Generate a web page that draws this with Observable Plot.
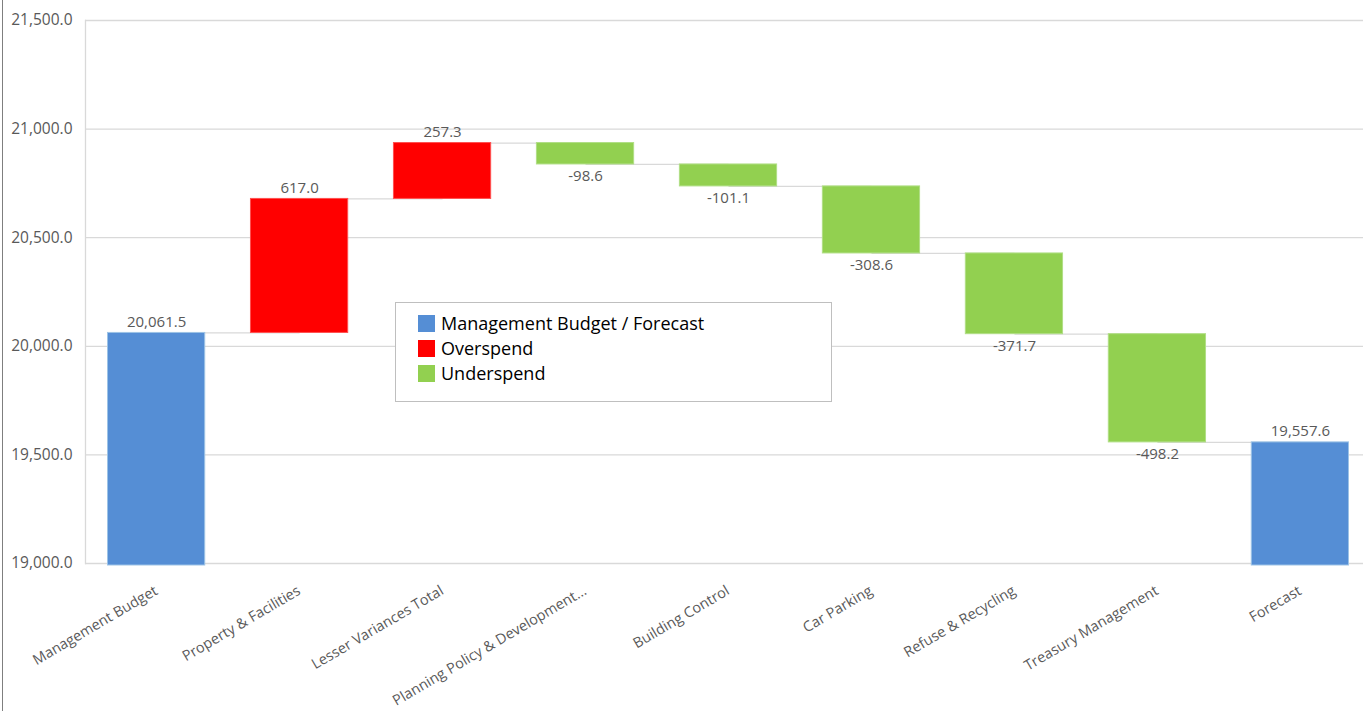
<!DOCTYPE html>
<html>
<head>
<meta charset="utf-8">
<script src="https://cdn.jsdelivr.net/npm/d3@7"></script>
<script src="https://cdn.jsdelivr.net/npm/@observablehq/plot@0.6"></script>
<style>
  html, body { margin: 0; padding: 0; background: #fff; }
  #wrap { position: relative; width: 1363px; height: 711px; overflow: hidden; font-family: "Open Sans", sans-serif; }
  #border { position: absolute; left: 2px; top: 0; width: 0; height: 711px; border-left: 1px solid #7f7f7f; }
  #legend { position: absolute; left: 395px; top: 302px; width: 435px; height: 98px; border: 1px solid #bfbfbf; background: #fff; box-sizing: content-box; }
  .item { position: absolute; left: 22px; height: 20px; display: flex; align-items: center; font-size: 18px; color: #000; }
  .sw { width: 17px; height: 17px; margin-right: 6px; }
</style>
</head>
<body>
<div id="wrap"><div id="chart"></div><div id="border"></div><div id="legend"></div></div>
<script>
const categories = ["Management Budget", "Property & Facilities", "Lesser Variances Total", "Planning Policy & Development...", "Building Control", "Car Parking", "Refuse & Recycling", "Treasury Management", "Forecast"];
const values = [20061.5, 617.0, 257.3, -98.6, -101.1, -308.6, -371.7, -498.2, 19557.6];
const kinds = ["total", "delta", "delta", "delta", "delta", "delta", "delta", "delta", "total"];
const yTicks = [19000, 19500, 20000, 20500, 21000, 21500];
const legendLabels = ["Management Budget / Forecast", "Overspend", "Underspend"];
const colors = { total: "#558ED5", over: "#FF0000", under: "#92D050" };
const baseValue = 19000;

// Build waterfall rows
let running = 0;
const rows = categories.map((c, i) => {
  const v = values[i];
  let lo, hi, type;
  if (kinds[i] === "total") {
    lo = baseValue; hi = v; running = v; type = "total";
  } else {
    const start = running; running = start + v;
    lo = Math.min(start, running); hi = Math.max(start, running);
    type = v >= 0 ? "over" : "under";
  }
  return { cat: c, v, lo, hi, end: kinds[i] === "total" ? v : running, type };
});
const links = rows.slice(0, -1).map((r, i) => ({ a: r.cat, b: rows[i + 1].cat, y: r.end }));
const locale = d3.formatLocale({ decimal: ".", thousands: ",", grouping: [3], currency: ["", ""], minus: "-" });
const fmtLabel = locale.format(",.1f");
const strokeFor = { total: "#9DC3E6", over: "#FF5050", under: "#B0DE85" };

const chart = Plot.plot({
  width: 1363,
  height: 711,
  marginLeft: 85,
  marginRight: 0,
  marginTop: 20,
  marginBottom: 148,
  style: { fontFamily: "Open Sans, sans-serif", background: "transparent" },
  x: { domain: categories, range: [107.5, 1348.5], paddingInner: 0.32, paddingOuter: 0, round: false, axis: null },
  y: { domain: [19000, 21500], axis: null },
  marks: [
    Plot.ruleY(yTicks, { stroke: "#d9d9d9", strokeWidth: 1.3 }),
    Plot.frame({ anchor: "left", stroke: "#d9d9d9", strokeWidth: 1.3 }),
    Plot.text(yTicks, { x: null, y: d => d, frameAnchor: "left", text: d => fmtLabel(d), textAnchor: "end", dx: -13, fontSize: 15.5, fill: "#595959" }),
    Plot.link(links, { x1: "a", x2: "b", y1: "y", y2: "y", stroke: "#d9d9d9", strokeWidth: 1.3 }),
    Plot.barY(rows.filter(d => d.type === "total"), { x: "cat", y1: "lo", y2: "hi", insetBottom: -2, fill: colors.total, stroke: strokeFor.total, strokeWidth: 1 }),
    Plot.barY(rows.filter(d => d.type !== "total"), { x: "cat", y1: "lo", y2: "hi", fill: d => colors[d.type], stroke: d => strokeFor[d.type], strokeWidth: 1 }),
    Plot.text(rows.filter(d => d.type !== "under"), { x: "cat", y: "hi", text: d => fmtLabel(d.v), dy: -11, fontSize: 15, fill: "#595959" }),
    Plot.text(rows.filter(d => d.type === "under"), { x: "cat", y: "lo", text: d => fmtLabel(d.v), dy: 12, fontSize: 15, fill: "#595959" }),
    Plot.text(categories, { x: d => d, frameAnchor: "bottom", text: d => d, rotate: -30.5, textAnchor: "end", dx: 2, dy: 30, fontSize: 14.5, fill: "#595959" })
  ]
});
document.getElementById("chart").appendChild(chart);

const legend = document.getElementById("legend");
const legendColors = [colors.total, colors.over, colors.under];
legendLabels.forEach((t, i) => {
  const it = document.createElement("div");
  it.className = "item";
  it.style.top = (10 + i * 25) + "px";
  it.innerHTML = `<div class="sw" style="background:${legendColors[i]}"></div><span>${t}</span>`;
  legend.appendChild(it);
});
</script>
</body>
</html>
